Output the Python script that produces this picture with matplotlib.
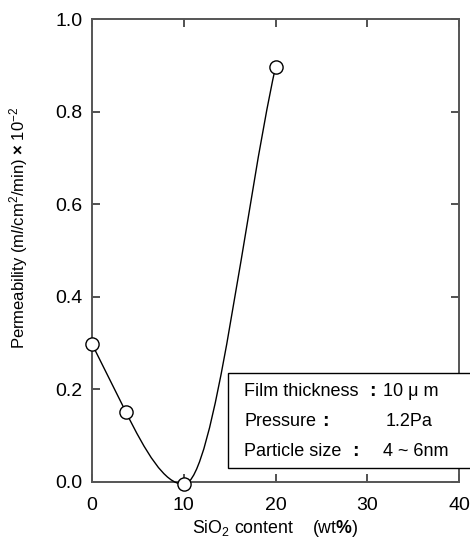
import matplotlib
matplotlib.use("Agg")
import matplotlib.pyplot as plt
from matplotlib.path import Path
from matplotlib.patches import PathPatch, Rectangle

plt.rcParams["font.family"] = ["Liberation Sans", "DejaVu Sans"]
plt.rcParams["mathtext.fontset"] = "custom"
plt.rcParams["mathtext.rm"] = "Liberation Sans"
plt.rcParams["mathtext.it"] = "Liberation Sans:italic"
plt.rcParams["mathtext.bf"] = "Liberation Sans:bold"

sio2 = [0, 3.7, 10, 20]
permeability = [0.298, 0.151, -0.005, 0.896]
# Steigung der Kurve an den Messpunkten
slopes = [-0.04, -0.04, 0.0, 0.09]

x_ticks = [0, 10, 20, 30, 40]
y_ticks = [0.0, 0.2, 0.4, 0.6, 0.8, 1.0]

box_labels = ["Film thickness", "Pressure", "Particle size"]
box_values = ["10 \u03bc m", "1.2Pa", "4 ~ 6nm"]

W, H = 470, 540
fig = plt.figure(figsize=(W / 100, H / 100), dpi=100)
ax = fig.add_axes([92 / W, 1 - 482 / H, (459 - 92) / W, (482 - 19) / H])

# glatte Kurve durch die Punkte (kubische Bezier-Segmente)
verts = [(sio2[0], permeability[0])]
codes = [Path.MOVETO]
for i in range(len(sio2) - 1):
    h = sio2[i + 1] - sio2[i]
    verts.append((sio2[i] + h / 3, permeability[i] + slopes[i] * h / 3))
    verts.append((sio2[i + 1] - h / 3, permeability[i + 1] - slopes[i + 1] * h / 3))
    verts.append((sio2[i + 1], permeability[i + 1]))
    codes += [Path.CURVE4] * 3
curve = PathPatch(Path(verts, codes), fill=False, edgecolor="black", lw=1.0,
                  transform=ax.transData, clip_on=False, zorder=3)
ax.add_patch(curve)

ax.plot(sio2, permeability, "o", ms=9.5, mfc="white", mec="black", mew=1.0,
        clip_on=False, zorder=4)

ax.set_xlim(0, 40)
ax.set_ylim(0, 1.0)
ax.set_xticks(x_ticks)
ax.set_yticks(y_ticks)
ax.set_yticklabels([f"{v:.1f}" for v in y_ticks])
ax.tick_params(direction="in", length=6, width=1.2, color="#333333",
               top=True, right=True, labelsize=14)
ax.tick_params(axis="y", pad=7)
ax.tick_params(axis="x", pad=11)
for s in ax.spines.values():
    s.set_color("#555555")
    s.set_linewidth(1.4)

ax.set_ylabel(r"Permeability (m$\mathit{l}$/cm$^2$/min) $\mathbf{\times}$ 10$^{-2}$",
              fontsize=12)
ax.yaxis.set_label_coords(-0.168, 0.55)
ax.set_xlabel(r"SiO$_2$ content    (wt$\mathbf{\%}$)", fontsize=12.8)
ax.xaxis.set_label_coords(0.5, -0.078)

# Infobox (ragt über den rechten Rand hinaus)
box = Rectangle((228 / W, 1 - 468 / H), 1.0, (468 - 373) / H, transform=fig.transFigure,
                facecolor="white", edgecolor="black", lw=1.0, clip_on=False, zorder=10)
ax.add_patch(box)

row_y = [392, 422, 452]
colon_x = [372, 325, 355]
value_x = [383, 386, 383]
for lab, val, yy, cx, vx in zip(box_labels, box_values, row_y, colon_x, value_x):
    fig.text(244 / W, 1 - yy / H, lab, fontsize=13, ha="left", va="center", zorder=11)
    fig.text(cx / W, 1 - yy / H, ":", fontsize=14, fontweight="bold",
             ha="center", va="center", zorder=11)
    fig.text(vx / W, 1 - yy / H, val, fontsize=13, ha="left", va="center", zorder=11)

fig.savefig("out.png", dpi=100)
